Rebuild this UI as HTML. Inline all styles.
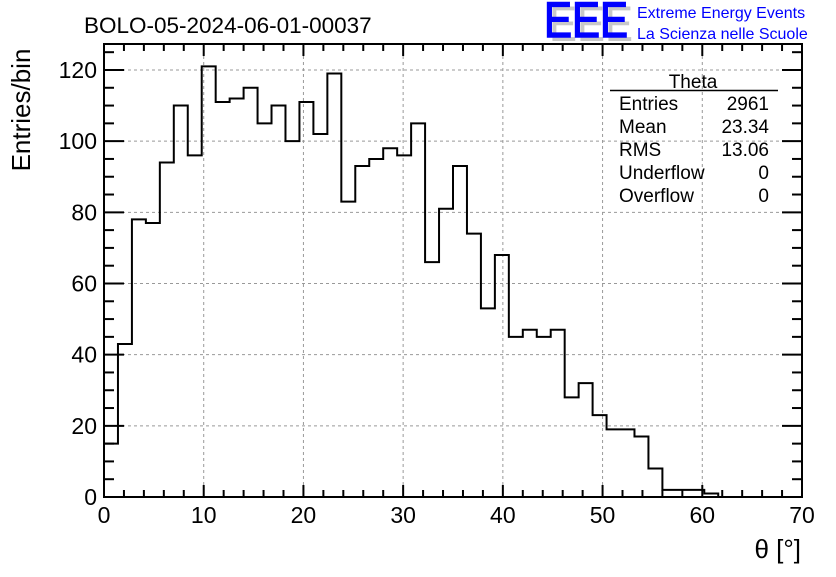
<!DOCTYPE html>
<html><head><meta charset="utf-8"><style>
body{margin:0;background:#fff;}
svg text{font-family:"Liberation Sans",sans-serif;}
</style></head><body>
<svg id="c" width="836" height="572" xmlns="http://www.w3.org/2000/svg">
<rect width="836" height="572" fill="#fff"/>
<g id="grid"></g>
<g id="ticks"></g>
<path id="hist" fill="none" stroke="#000" stroke-width="2"/>
<rect x="104" y="44" width="698" height="453" fill="none" stroke="#000" stroke-width="2"/>
<g id="labels" font-size="23"></g>
<text x="84" y="33" font-size="22.5">BOLO-05-2024-06-01-00037</text>
<text transform="translate(30,110) rotate(-90)" text-anchor="middle" font-size="26">Entries/bin</text>
<text x="801" y="558" text-anchor="end" font-size="26">θ [°]</text>
<g>
<text x="549" y="41" font-size="50" fill="#c8c8c8" textLength="84" lengthAdjust="spacingAndGlyphs">EEE</text>
<text x="544" y="37" font-size="50" fill="#0000ff" stroke="#0000ff" stroke-width="1.5" textLength="84" lengthAdjust="spacingAndGlyphs">EEE</text>
<text x="637" y="18" font-size="16" fill="#0000ff">Extreme Energy Events</text>
<text x="637" y="39" font-size="16" fill="#0000ff">La Scienza nelle Scuole</text>
</g>
<g font-size="19">
<text x="693" y="88" text-anchor="middle">Theta</text>
<line x1="610" y1="90.5" x2="778" y2="90.5" stroke="#000" stroke-width="1.5"/>
<text x="619" y="110">Entries</text><text x="769" y="110" text-anchor="end">2961</text>
<text x="619" y="133">Mean</text><text x="769" y="133" text-anchor="end">23.34</text>
<text x="619" y="156">RMS</text><text x="769" y="156" text-anchor="end">13.06</text>
<text x="619" y="179">Underflow</text><text x="769" y="179" text-anchor="end">0</text>
<text x="619" y="202">Overflow</text><text x="769" y="202" text-anchor="end">0</text>
</g>
</svg>
<script>
const counts=[15,43,78,77,94,110,96,121,111,112,115,105,110,100,111,102,119,83,93,95,98,96,105,66,81,93,74,53,68,45,47,45,47,28,32,23,19,19,17,8,2,2,2,1,0,0,0,0,0,0];
const xTicks=[0,10,20,30,40,50,60,70];
const yTicks=[0,20,40,60,80,100,120];
const binWidth=1.4;
const X=v=>104+v*(698/70);
const Y=v=>497-v*(453/127.3);
const NS="http://www.w3.org/2000/svg";
function mk(tag,attrs,parent){const e=document.createElementNS(NS,tag);for(const k in attrs)e.setAttribute(k,attrs[k]);parent.appendChild(e);return e;}
const grid=document.getElementById('grid'),ticks=document.getElementById('ticks'),labels=document.getElementById('labels');
xTicks.forEach(t=>{
  if(t>0&&t<70){const l=mk('line',{x1:X(t),x2:X(t),y1:44,y2:497,stroke:'#999','stroke-dasharray':'3,3','stroke-width':1},grid);
  
  }
  const tx=mk('text',{x:X(t),y:523,'text-anchor':'middle'},labels);tx.textContent=t;
  
  
});
yTicks.forEach(t=>{
  if(t>0){const l=mk('line',{x1:104,x2:802,y1:Y(t),y2:Y(t),stroke:'#999','stroke-dasharray':'3,3','stroke-width':1},grid);
  
  }
  const tx=mk('text',{x:97,y:Y(t)+8,'text-anchor':'end'},labels);tx.textContent=t;
  
  
});
for(let v=0;v<=70;v+=2){const L=(v%10===0)?12:7;
  mk('line',{x1:X(v),x2:X(v),y1:497,y2:497-L,stroke:'#000','stroke-width':2},ticks);
  mk('line',{x1:X(v),x2:X(v),y1:44,y2:44+L,stroke:'#000','stroke-width':2},ticks);}
for(let v=0;v<=125;v+=5){const L=(v%20===0)?20:10;
  mk('line',{x1:104,x2:104+L,y1:Y(v),y2:Y(v),stroke:'#000','stroke-width':2},ticks);
  mk('line',{x1:802,x2:802-L,y1:Y(v),y2:Y(v),stroke:'#000','stroke-width':2},ticks);}
let d='M'+X(0)+','+Y(0);
counts.forEach((c,i)=>{d+=' L'+X(i*binWidth)+','+Y(c)+' L'+X((i+1)*binWidth)+','+Y(c);});
d+=' L'+X(counts.length*binWidth)+','+Y(0);
document.getElementById('hist').setAttribute('d',d);
</script>
</body></html>
